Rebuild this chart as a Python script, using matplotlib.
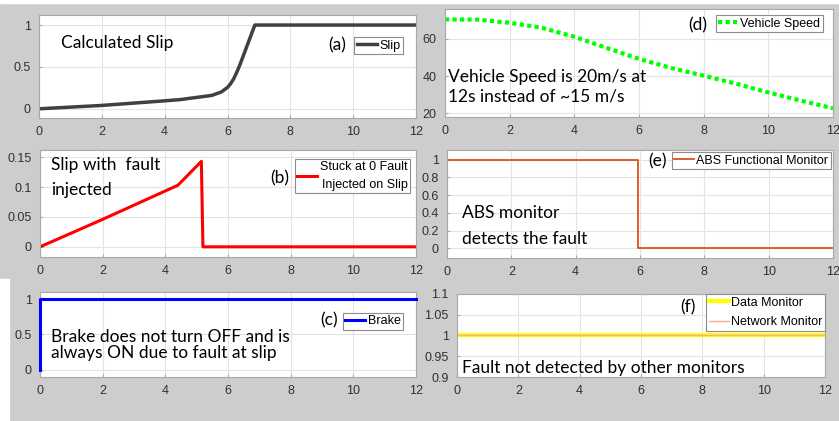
import matplotlib.pyplot as plt
from matplotlib.patches import Rectangle

# ---- data ----
t_slip = [0, 2, 4, 4.5, 5, 5.2, 5.5, 5.8, 6, 6.1, 6.2, 6.3, 6.4, 6.5, 6.6, 6.7, 6.8, 6.87, 12]
slip = [0, 0.04, 0.095, 0.11, 0.135, 0.145, 0.16, 0.2, 0.255, 0.3, 0.36, 0.44, 0.53,
        0.63, 0.73, 0.83, 0.93, 1.0, 1.0]

t_fault = [0, 2, 4.4, 5.15, 5.2, 12]
slip_fault = [0, 0.046, 0.103, 0.143, 0, 0]

t_brake = [0, 0, 12]
brake = [0, 1, 1]

t_speed = [0, 1, 2, 3, 4, 5, 6, 7, 8, 9, 10, 11, 12]
speed = [70.4, 70.3, 68.6, 65.9, 61.1, 55.1, 49.2, 44.3, 40.2, 35.9, 31.2, 26.8, 22.7]

t_abs = [0, 5.95, 5.95, 12]
abs_mon = [1, 1, 0, 0]

t_mon = [0, 12]
data_mon = [1, 1]
net_mon = [1, 1]

xticks = [0, 2, 4, 6, 8, 10, 12]

W, H = 839, 421
fig = plt.figure(figsize=(W / 100, H / 100), dpi=100)
fig.patch.set_facecolor('#cdcdcd')
fig.patches.append(Rectangle((0, 1 - 3 / H), 1, 3 / H, transform=fig.transFigure,
                             color='white', zorder=0))
fig.patches.append(Rectangle((0, 0), 9 / W, 142 / H, transform=fig.transFigure,
                             color='white', zorder=0))


def px_axes(x0, y0, x1, y1):
    return fig.add_axes([x0 / W, 1 - y1 / H, (x1 - x0) / W, (y1 - y0) / H])


def style(ax, ylim, yticks, yticklabels):
    ax.set_xlim(0, 12)
    ax.set_ylim(*ylim)
    ax.set_xticks(xticks)
    ax.set_yticks(yticks)
    ax.set_yticklabels(yticklabels)
    ax.grid(True, color='#e3e3e3', lw=0.8)
    ax.set_axisbelow(True)
    for s in ax.spines.values():
        s.set_color('#a8a8a8')
        s.set_linewidth(0.8)
    ax.tick_params(direction='in', length=2.5, color='#a8a8a8', labelsize=9,
                   labelcolor='#303030', pad=6)
    for lab in ax.get_xticklabels() + ax.get_yticklabels():
        lab.set_family('Liberation Sans')


def legend_at(ax, x, y, spacing=0.15):
    leg = ax.legend(loc='upper right', bbox_to_anchor=(x / W, 1 - y / H),
                    bbox_transform=fig.transFigure, borderaxespad=0,
                    fancybox=False, framealpha=1, edgecolor='#8c8c8c',
                    prop={'family': 'Liberation Sans', 'size': 9},
                    handlelength=1.6, handletextpad=0.2, borderpad=0.2,
                    labelspacing=spacing)
    leg.get_frame().set_linewidth(0.8)
    return leg


def note(x, y, s, ha='left', size=12.5):
    fig.text(x / W, 1 - y / H, s, ha=ha, va='center', family='Lato', size=size,
             color='black')


# (a) calculated slip
ax = px_axes(39, 15, 416, 118)
ax.plot(t_slip, slip, color='#404040', lw=2.5, label='Slip')
style(ax, (-0.11, 1.12), [0, 0.5, 1], ['0', '0.5', '1'])
legend_at(ax, 403, 37)
note(61, 43, 'Calculated Slip')
note(346, 45, '(a)', ha='right')

# (b) slip with fault
ax = px_axes(40, 150, 416, 257)
ax.plot(t_fault, slip_fault, color='#ff0000', lw=2.2, label='Stuck at 0 Fault\nInjected on Slip')
style(ax, (-0.017, 0.162), [0, 0.05, 0.1, 0.15], ['0', '0.05', '0.1', '0.15'])
leg = legend_at(ax, 410, 159)
for txt in leg.get_texts():
    txt.set_multialignment('right')
    txt.set_linespacing(1.6)
note(51, 165, 'Slip with  fault')
note(51, 190, 'injected')
note(289, 178, '(b)', ha='right')

# (c) brake
ax = px_axes(40, 292, 416, 377)
ax.plot(t_brake, brake, color='#0000ff', lw=2.2, label='Brake', clip_on=False, zorder=3)
style(ax, (-0.1, 1.1), [0, 0.5, 1], ['0', '0.5', '1'])
legend_at(ax, 403, 313)
note(51, 337, 'Brake does not turn OFF and is')
note(51, 353, 'always ON due to fault at slip')
note(338, 320, '(c)', ha='right')

# (d) vehicle speed
ax = px_axes(445, 9, 833, 117)
ax.plot(t_speed, speed, color='#00ff00', lw=3, dashes=(1, 0.8), label='Vehicle Speed')
style(ax, (18, 76), [20, 40, 60], ['20', '40', '60'])
legend_at(ax, 823, 15)
note(448, 77, 'Vehicle Speed is 20m/s at')
note(448, 97, '12s instead of ~15 m/s')
note(707, 25, '(d)', ha='right')

# (e) ABS functional monitor
ax = px_axes(447, 150, 833, 258)
ax.plot(t_abs, abs_mon, color='#d95319', lw=1.3, label='ABS Functional Monitor')
style(ax, (-0.11, 1.11), [0, 0.2, 0.4, 0.6, 0.8, 1],
      ['0', '0.2', '0.4', '0.6', '0.8', '1'])
legend_at(ax, 831, 152)
note(462, 213, 'ABS monitor')
note(462, 239, 'detects the fault')
note(667, 161, '(e)', ha='right')

# (f) other monitors
ax = px_axes(457, 294, 825, 377)
ax.plot(t_mon, data_mon, color='#ffff00', lw=3, label='Data Monitor')
ax.plot(t_mon, net_mon, color='#f4b08a', lw=1, label='Network Monitor')
style(ax, (0.9, 1.1), [0.9, 0.95, 1, 1.05, 1.1], ['0.9', '0.95', '1', '1.05', '1.1'])
legend_at(ax, 825, 294, spacing=0.6)
note(462, 368, 'Fault not detected by other monitors')
note(696, 307, '(f)', ha='right')

fig.savefig('out.png', dpi=100, facecolor=fig.get_facecolor())
